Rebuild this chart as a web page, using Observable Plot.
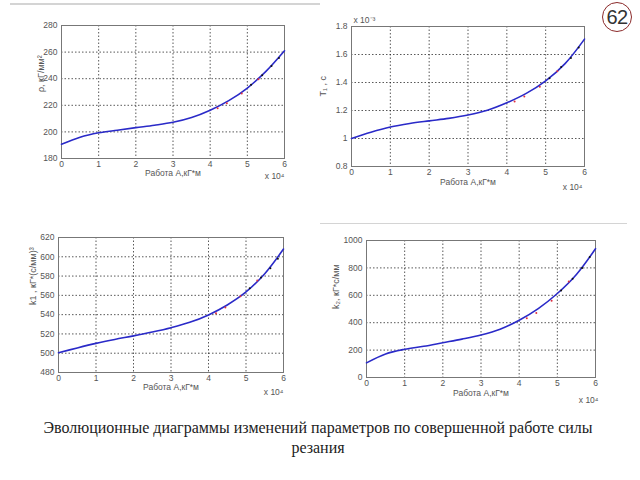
<!DOCTYPE html>
<html><head><meta charset="utf-8">
<script src="https://cdn.jsdelivr.net/npm/d3@7"></script>
<script src="https://cdn.jsdelivr.net/npm/@observablehq/plot@0.6"></script>
<style>
body{margin:0;background:#fff;width:640px;height:480px;overflow:hidden;position:relative;font-family:"Liberation Sans",Arial,sans-serif;}
.p{position:absolute;}
.sep{position:absolute;background:#d4d4d4;}
#badge{position:absolute;left:602px;top:2px;width:28px;height:28px;border:1.5px solid #8b2a2a;border-radius:50%;font-family:"Liberation Sans",Arial,sans-serif;font-size:20px;color:#333;text-align:center;line-height:28px;letter-spacing:-0.5px;}
</style></head>
<body>
<div class="sep" style="left:10px;top:3px;width:310px;height:2px"></div>
<div class="sep" style="left:320px;top:223px;width:307px;height:1px"></div>
<div id="badge">62</div>
<div id="p1" class="p" style="left:0;top:0"></div>
<div id="p2" class="p" style="left:300px;top:0"></div>
<div id="p3" class="p" style="left:0;top:220px"></div>
<div id="p4" class="p" style="left:300px;top:220px"></div>
<div id="caption" style="position:absolute;left:0;width:636px;top:418px;text-align:center;font-family:'Liberation Serif','Times New Roman',Times,serif;font-size:16px;line-height:20px;color:#222;">Эволюционные диаграммы изменений параметров по совершенной работе силы<br>резания</div>
<script>
// Work A (x 10^4 кГ*м)
const workA = [0, 0.5, 1, 1.5, 2, 2.5, 3, 3.5, 4, 4.5, 5, 5.5, 6];
const rhoValues = [190.7, 196, 199.3, 201.3, 203.2, 205, 207.2, 210.8, 216.3, 223.5, 233, 245.5, 261];
const t1Values = [1.0, 1.045, 1.082, 1.107, 1.126, 1.144, 1.168, 1.202, 1.255, 1.322, 1.412, 1.535, 1.71];
const k1Values = [500.5, 505.5, 510.2, 514.3, 518, 522, 526.5, 532, 539.7, 550, 563.5, 582.5, 608];
const k2Values = [107, 172, 206, 228, 254, 280, 310, 352, 418, 503, 613, 752, 940];

const redMarkA = [4.2, 4.45, 4.85, 5.3];
const blackMarkA = [5.1, 5.4, 5.65, 5.85];
const rhoRed = [217.8, 221.6, 228.8, 239.5];
const rhoBlack = [235.5, 242.6, 249.5, 255.5];
const t1Red = [1.265, 1.3, 1.37, 1.48];
const t1Black = [1.43, 1.51, 1.575, 1.65];
const k1Red = [541.5, 547.5, 559, 575.5];
const k1Black = [567.5, 578.5, 588, 598];
const k2Red = [432, 470, 560, 700];
const k2Black = [635, 720, 800, 880];

const xTicks = [0, 1, 2, 3, 4, 5, 6];
const rhoTicks = [180, 200, 220, 240, 260, 280];
const t1Ticks = [0.8, 1, 1.2, 1.4, 1.6, 1.8];
const k1Ticks = [480, 500, 520, 540, 560, 580, 600, 620];
const k2Ticks = [0, 200, 400, 600, 800, 1000];

const xLabel = "Работа А,кГ*м";
const labels = {
  rho: "ρ, кГ/мм²",
  t1: "T₁ , c",
  k1: "k1 , кГ*(с/мм)³",
  k2: "k₂, кГ*с/мм"
};

function panel({el, width, height, margins, yDomain, yTicks, values, red, black, yLabel, yLabelDx, xLabelDy, expDy, expDx, topNote}) {
  const data = workA.map((a, i) => ({a, v: values[i]}));
  const reds = redMarkA.map((a, i) => ({a, v: red[i]}));
  const blacks = blackMarkA.map((a, i) => ({a, v: black[i]}));
  const marks = [
    Plot.gridX(xTicks, {stroke: "#222", strokeOpacity: 0.75, strokeDasharray: "1.5,2"}),
    Plot.gridY(yTicks, {stroke: "#222", strokeOpacity: 0.75, strokeDasharray: "1.5,2"}),
    Plot.frame({stroke: "#777", strokeWidth: 1}),
    Plot.axisX(xTicks, {label: null, tickSize: 0, tickPadding: 2, fill: "#555", fontSize: 8.5, tickFormat: d => String(d)}),
    Plot.axisY(yTicks, {label: null, tickSize: 0, tickPadding: 4, fill: "#555", fontSize: 8.5, tickFormat: d => String(d)}),
    Plot.line(data, {x: "a", y: "v", curve: "catmull-rom", stroke: "#2a2ac8", strokeWidth: 1.6}),
    Plot.dot(reds, {x: "a", y: "v", r: 1, fill: "#e03040", stroke: null}),
    Plot.dot(blacks, {x: "a", y: "v", r: 1, fill: "#111", stroke: null}),
    Plot.text([xLabel], {frameAnchor: "bottom", dy: xLabelDy, fill: "#555", fontSize: 8.5}),
    Plot.text(["x 10⁴"], {frameAnchor: "bottom-right", dy: expDy, dx: expDx, textAnchor: "end", fill: "#555", fontSize: 8.5}),
    Plot.text([yLabel], {frameAnchor: "left", rotate: -90, dx: yLabelDx, fill: "#555", fontSize: 9})
  ];
  if (topNote) marks.push(Plot.text([topNote], {frameAnchor: "top-left", dy: -10, dx: 2, textAnchor: "start", fill: "#555", fontSize: 8.5}));
  const chart = Plot.plot({
    width, height,
    marginLeft: margins[0], marginRight: margins[1], marginTop: margins[2], marginBottom: margins[3],
    style: {fontFamily: "'Liberation Sans', Arial, sans-serif", fontSize: "9px", background: "transparent", overflow: "visible"},
    x: {domain: [0, 6], label: null},
    y: {domain: yDomain, label: null},
    marks
  });
  document.getElementById(el).append(chart);
}

panel({el: "p1", width: 300, height: 185, margins: [61, 16, 25, 27], yDomain: [180, 280], yTicks: rhoTicks,
  values: rhoValues, red: rhoRed, black: rhoBlack, yLabel: labels.rho, yLabelDx: -20, xLabelDy: 17, expDy: 20, expDx: 0});
panel({el: "p2", width: 330, height: 200, margins: [51, 46, 26, 34], yDomain: [0.8, 1.8], yTicks: t1Ticks,
  values: t1Values, red: t1Red, black: t1Black, yLabel: labels.t1, yLabelDx: -28, xLabelDy: 18, expDy: 23, expDx: -2, topNote: "x 10⁻³"});
panel({el: "p3", width: 300, height: 190, margins: [58, 17, 17, 38], yDomain: [480, 620], yTicks: k1Ticks,
  values: k1Values, red: k1Red, black: k1Black, yLabel: labels.k1, yLabelDx: -25, xLabelDy: 17, expDy: 22, expDx: 0});
panel({el: "p4", width: 330, height: 190, margins: [66, 35, 20, 33], yDomain: [0, 1000], yTicks: k2Ticks,
  values: k2Values, red: k2Red, black: k2Black, yLabel: labels.k2, yLabelDx: -30, xLabelDy: 18, expDy: 25, expDx: 3});
</script>
</body></html>
